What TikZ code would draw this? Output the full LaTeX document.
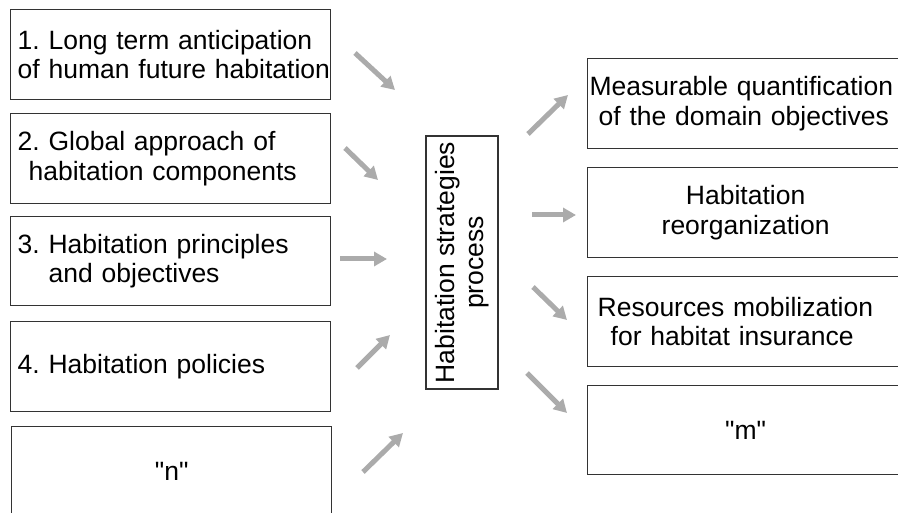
\documentclass[tikz,border=0pt]{standalone}
\usepackage{fontspec}
\newfontfamily\boxfont{Liberation Sans}
\usetikzlibrary{arrows.meta}
\begin{document}
\frenchspacing
\begin{tikzpicture}[x=1pt,y=-1pt,
  box/.style={draw=black!80, line width=1.3pt, rectangle, inner sep=0pt, anchor=north west,
    font=\boxfont\fontsize{26.5}{29.5}\selectfont, text=black},
  garrow/.style={draw=black!33, line width=5pt, -{Triangle[length=13pt,width=14pt]}}]
\useasboundingbox (0,0) rectangle (898,513);
\clip (0,0) rectangle (898,513);
% left boxes
\node[box, minimum width=320pt, minimum height=90pt, text width=306pt, inner xsep=7pt, align=left] (L1) at (10,9)
  {\mbox{1. Long term anticipation}\\\mbox{of human future habitation}};
\node[box, minimum width=320pt, minimum height=90pt, text width=306pt, inner xsep=7pt, align=left] (L2) at (10,113)
  {\mbox{2. Global approach of}\\\mbox{\hspace*{11pt}habitation components}};
\node[box, minimum width=320pt, minimum height=89pt, text width=306pt, inner xsep=7pt, align=left] (L3) at (10,216)
  {\mbox{3. Habitation principles}\\\mbox{\hspace*{31pt}and objectives}};
\node[box, minimum width=320pt, minimum height=90pt, text width=306pt, inner xsep=7pt, align=left] (L4) at (10,321)
  {\mbox{4. Habitation policies}};
\node[box, minimum width=320pt, minimum height=90pt, text width=320pt, align=center] (L5) at (11,426)
  {"n"};
% centre box
\node[box, rotate=90, anchor=center, minimum width=253pt, minimum height=72pt, align=center] (C) at (462,262.5)
  {Habitation strategies\\process};
% right boxes
\node[box, minimum width=316pt, minimum height=90pt, text width=312pt, inner xsep=2pt, align=left] (R1) at (587,58)
  {\mbox{Measurable quantification}\\\mbox{\hspace*{9pt}of the domain objectives}};
\node[box, minimum width=316pt, minimum height=90pt, text width=316pt, align=center] (R2) at (587,167)
  {Habitation\\reorganization};
\node[box, minimum width=316pt, minimum height=90pt, text width=296pt, inner xsep=10pt, align=left] (R3) at (587,276)
  {\mbox{Resources mobilization}\\\mbox{\hspace*{13pt}for habitat insurance}};
\node[box, minimum width=316pt, minimum height=89pt, text width=316pt, align=center] (R4) at (587,385)
  {"m"};
% arrow ends
\coordinate (a1s) at (355,53);  \coordinate (a1e) at (395,90);
\coordinate (a2s) at (345,148); \coordinate (a2e) at (378,180);
\coordinate (a3s) at (340,259); \coordinate (a3e) at (387,259);
\coordinate (a4s) at (357,368); \coordinate (a4e) at (390,335);
\coordinate (a5s) at (363,472); \coordinate (a5e) at (403,433);
\coordinate (b1s) at (528,134); \coordinate (b1e) at (568,95);
\coordinate (b2s) at (532,215); \coordinate (b2e) at (576,215);
\coordinate (b3s) at (533,287); \coordinate (b3e) at (567,320);
\coordinate (b4s) at (527,373); \coordinate (b4e) at (567,413);
\foreach \p in {a1,a2,a3,a4,a5,b1,b2,b3,b4}
  \draw[garrow] (\p s) -- (\p e);
\end{tikzpicture}
\end{document}
